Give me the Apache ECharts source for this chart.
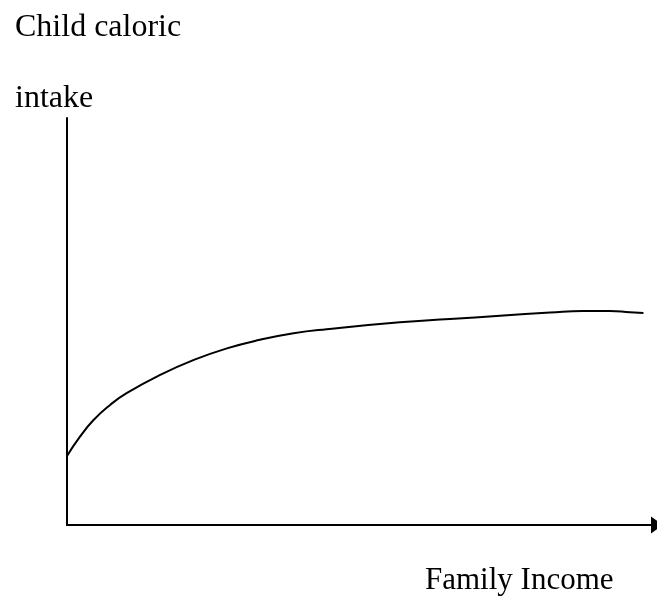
<!DOCTYPE html>
<html>
<head>
<meta charset="utf-8">
<script src="https://cdn.jsdelivr.net/npm/echarts@6/dist/echarts.min.js"></script>
<style>
  html, body { margin: 0; padding: 0; background: #fff; }
  #chart { width: 657px; height: 601px; }
</style>
</head>
<body>
<div id="chart"></div>
<script>
  // income (0-100) and caloric intake (0-100)
  const income = [0, 2.2, 4.5, 7.3, 10.1, 15.8, 21.4, 27.1, 32.7, 38.4, 44.0, 56.4, 64.9, 73.4, 81.9, 87.5, 92.0, 95.4, 97.7]
  const intake = [16.95, 21.7, 25.8, 29.5, 32.4, 36.9, 40.5, 43.4, 45.5, 47.1, 48.1, 49.8, 50.6, 51.4, 52.2, 52.6, 52.6, 52.3, 52.1]
  const yLabel = ['Child caloric', 'intake']
  const xLabel = 'Family Income'

  const serif = '"Liberation Serif", "Times New Roman", serif'

  let chart = echarts.init(document.getElementById('chart'))
  chart.setOption({
    backgroundColor: '#fff',
    animation: false,
    grid: { left: 67, top: 118, right: 0, bottom: 76 },
    xAxis: {
      type: 'value',
      min: 0,
      max: 100,
      axisLine: {
        show: true,
        symbol: ['none', 'triangle'],
        symbolSize: [17, 12],
        lineStyle: { color: '#000', width: 2 }
      },
      axisTick: { show: false },
      axisLabel: { show: false },
      splitLine: { show: false }
    },
    yAxis: {
      type: 'value',
      min: 0,
      max: 100,
      axisLine: { show: true, lineStyle: { color: '#000', width: 2 } },
      axisTick: { show: false },
      axisLabel: { show: false },
      splitLine: { show: false }
    },
    series: [{
      type: 'line',
      data: income.map((x, i) => [x, intake[i]]),
      smooth: 0.5,
      showSymbol: false,
      lineStyle: { color: '#000', width: 2 }
    }],
    graphic: [
      { type: 'text', x: 15, y: 12, style: { text: yLabel[0], font: '32px ' + serif, fill: '#000', verticalAlign: 'top' } },
      { type: 'text', x: 15, y: 83, style: { text: yLabel[1], font: '32px ' + serif, fill: '#000', verticalAlign: 'top' } },
      { type: 'text', x: 425, y: 565, style: { text: xLabel, font: '31px ' + serif, fill: '#000', verticalAlign: 'top' } }
    ]
  })
</script>
</body>
</html>
